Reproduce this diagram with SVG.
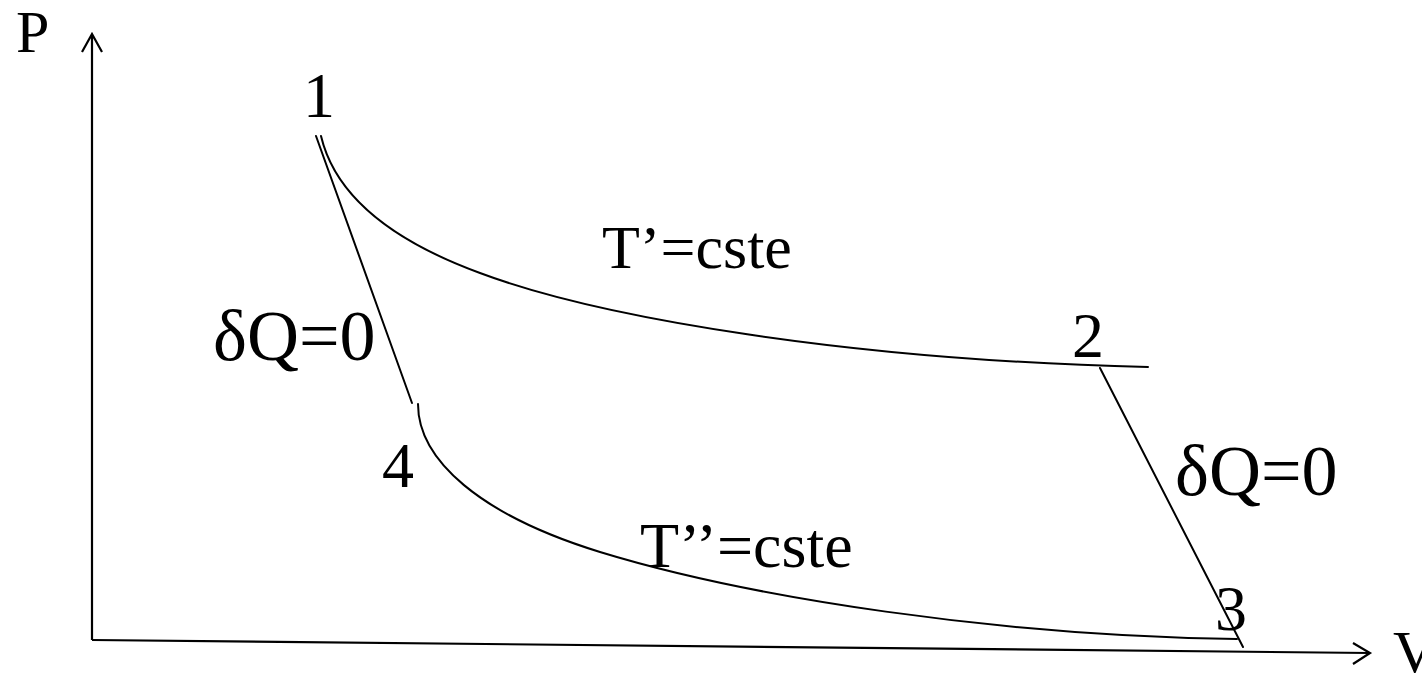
<svg xmlns="http://www.w3.org/2000/svg" width="1422" height="677" viewBox="0 0 1422 677">
<style>
text{font-family:"Liberation Serif","Times New Roman",serif;fill:#000}
.ln{fill:none;stroke:#000;stroke-width:2;stroke-linecap:round}
.ax{fill:none;stroke:#000;stroke-width:2.2}
</style>
<rect width="1422" height="677" fill="#fff"/>
<g id="axes">
<path class="ax" d="M92,640 L92,34 M82,52 L92,34 L102,52"/>
<path class="ax" d="M92,640 L1370,653 M1353,643 L1370,653 L1353,664"/>
<text x="16" y="52" font-size="60">P</text>
<text x="1393" y="672" font-size="60">V</text>
</g>
<g id="connectors">
<path id="iso1" class="ln" d="M321,136 C335,195 390,240 480,273 C600,318 850,360 1148,367"/>
<path id="adi1" class="ln" d="M316,136 L412,403"/>
<path id="iso2" class="ln" d="M418,404 C418,460 480,515 600,552 C750,598 1000,636 1237,639"/>
<path id="adi2" class="ln" d="M1100,368 L1243,647"/>
</g>
<g id="n1"><text x="319" y="117" font-size="64" text-anchor="middle">1</text></g>
<g id="n2"><text x="1088" y="357" font-size="64" text-anchor="middle">2</text></g>
<g id="n3"><text x="1231" y="630" font-size="64" text-anchor="middle">3</text></g>
<g id="n4"><text x="398" y="487" font-size="64" text-anchor="middle">4</text></g>
<g id="labels">
<text x="602" y="268" font-size="62">T’=cste</text>
<text x="640" y="567" font-size="64">T’’=cste</text>
<text x="213" y="360" font-size="72">δQ=0</text>
<text x="1175" y="495" font-size="72">δQ=0</text>
</g>
</svg>
